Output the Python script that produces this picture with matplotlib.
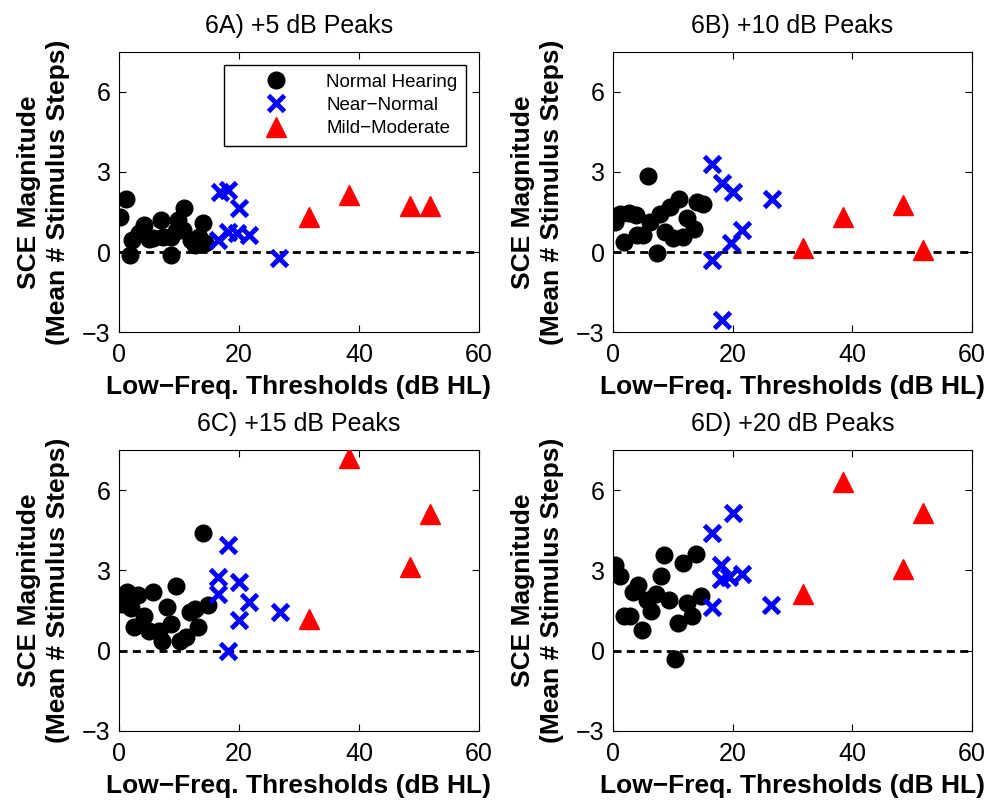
import matplotlib
matplotlib.use("Agg")
import matplotlib.pyplot as plt

plt.rcParams['font.family'] = ['Liberation Sans', 'DejaVu Sans']

titles = ['6A) +5 dB Peaks', '6B) +10 dB Peaks', '6C) +15 dB Peaks', '6D) +20 dB Peaks']

# normal hearing (one list per panel)
nh_x = [
    [1.2, 0.2, 1.8, 2.2, 3.4, 4.1, 5.0, 5.6, 7.0, 7.3, 8.7, 8.7, 9.5, 9.8, 10.6, 10.9, 12.0, 12.6, 13.4, 14.0, 14.3],
    [0.3, 1.1, 1.9, 2.7, 3.8, 4.0, 5.0, 5.8, 6.1, 7.3, 7.8, 8.7, 9.5, 10.1, 11.1, 11.7, 12.4, 13.5, 14.0, 15.1],
    [0.45, 1.4, 2.0, 2.5, 3.2, 4.2, 5.0, 5.6, 6.6, 7.2, 8.0, 8.7, 9.5, 10.1, 11.2, 11.8, 12.6, 13.2, 14.0, 14.8],
    [0.3, 1.2, 1.9, 2.8, 3.3, 4.2, 4.9, 5.6, 6.4, 7.2, 8.0, 8.6, 9.4, 10.3, 10.8, 11.7, 12.3, 13.2, 13.9, 14.7],
]
nh_y = [
    [1.98, 1.3, -0.11, 0.45, 0.7, 1.0, 0.5, 0.51, 1.2, 0.57, -0.11, 0.57, 0.8, 1.2, 0.82, 1.64, 0.45, 0.26, 0.57, 1.1, 0.33],
    [1.13, 1.44, 0.39, 1.47, 1.38, 0.64, 0.64, 2.84, 1.13, -0.05, 1.44, 0.76, 1.69, 0.51, 2.0, 0.57, 1.26, 0.88, 1.88, 1.79],
    [1.73, 2.19, 1.6, 0.88, 2.1, 1.31, 0.75, 2.19, 0.75, 0.38, 1.64, 1.0, 2.4, 0.38, 0.5, 1.44, 1.56, 0.88, 4.38, 1.69],
    [3.2, 2.81, 1.31, 1.31, 2.19, 2.44, 0.78, 1.88, 1.5, 2.13, 2.81, 3.56, 1.9, -0.31, 1.03, 3.28, 1.78, 1.31, 3.63, 2.06],
]

# near-normal
nn_x = [
    [16.8, 18.2, 20.0, 16.5, 18.2, 19.6, 21.6, 26.6],
    [16.6, 18.2, 20.1, 26.5, 21.5, 19.8, 16.5, 18.3],
    [18.2, 16.5, 16.5, 20.0, 21.7, 26.8, 20.0, 18.2],
    [20.0, 16.6, 18.1, 18.1, 19.4, 21.6, 16.6, 26.4],
]
nn_y = [
    [2.26, 2.33, 1.64, 0.45, 0.76, 0.73, 0.64, -0.24],
    [3.31, 2.57, 2.25, 2.0, 0.82, 0.32, -0.30, -2.54],
    [3.94, 2.75, 2.13, 2.56, 1.81, 1.44, 1.13, 0.0],
    [5.13, 4.38, 3.19, 2.69, 2.75, 2.88, 1.63, 1.69],
]

# mild-moderate
mm_x = [31.7, 38.4, 48.5, 51.8]
mm_y = [
    [1.33, 2.14, 1.73, 1.73],
    [0.14, 1.32, 1.76, 0.07],
    [1.19, 7.19, 3.13, 5.1],
    [2.13, 6.31, 3.06, 5.13],
]

fig = plt.figure(figsize=(9.9, 8.01), dpi=100)
positions = [
    [0.1202, 0.5855, 0.3636, 0.3496],
    [0.6192, 0.5855, 0.3626, 0.3496],
    [0.1202, 0.0874, 0.3636, 0.3508],
    [0.6192, 0.0874, 0.3626, 0.3508],
]

for i in range(4):
    ax = fig.add_axes(positions[i])
    ax.axhline(0, color='black', linestyle=(0, (2.9, 1.9)), linewidth=2, zorder=1)
    ax.plot(nh_x[i], nh_y[i], 'o', color='black', markersize=12, linestyle='none',
            label='Normal Hearing', zorder=3)
    ax.plot(nn_x[i], nn_y[i], 'x', color='blue', markersize=11.5, markeredgewidth=3.5,
            linestyle='none', label='Near\u2212Normal', zorder=3)
    ax.plot(mm_x, mm_y[i], '^', color='red', markersize=14, linestyle='none',
            label='Mild\u2212Moderate', zorder=3)
    ax.set_xlim(0, 60)
    ax.set_ylim(-3, 7.5)
    ax.set_xticks([0, 20, 40, 60])
    ax.set_yticks([-3, 0, 3, 6])
    ax.tick_params(direction='in', top=True, right=True, labelsize=18, length=5)
    ax.tick_params(axis='x', pad=8)
    ax.tick_params(axis='y', pad=6)
    ax.set_title(titles[i], fontsize=18, pad=14)
    ax.set_xlabel('Low\u2212Freq. Thresholds (dB HL)', fontsize=19, fontweight='bold', labelpad=6)
    ax.set_ylabel('SCE Magnitude\n(Mean # Stimulus Steps)', fontsize=19, fontweight='bold',
                  labelpad=9, linespacing=1.25)
    if i == 0:
        ax.legend(loc='upper right', fontsize=13.5, frameon=True, fancybox=False,
                  edgecolor='black', framealpha=1, borderpad=0.45, handletextpad=0.3,
                  handlelength=4.7, borderaxespad=0.7, labelspacing=0.33)

fig.savefig('out.png', dpi=100)
